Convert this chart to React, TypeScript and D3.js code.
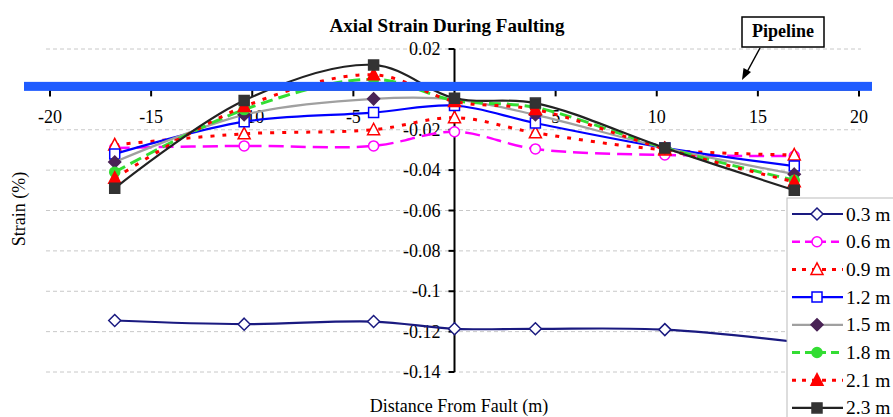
import React, { useEffect, useRef } from "react";
import * as d3 from "d3";

// distances from the fault (m)
const distances = [-16.8, -10.4, -4, 0, 4, 10.4, 16.8];

const depthLabels = ["0.3 m", "0.6 m", "0.9 m", "1.2 m", "1.5 m", "1.8 m", "2.1 m", "2.3 m"];

// strain (%) per burial depth
const strain03 = [-0.1145, -0.1163, -0.115, -0.1186, -0.1186, -0.119, -0.125];
const strain06 = [-0.029, -0.028, -0.028, -0.021, -0.0295, -0.0325, -0.033];
const strain09 = [-0.0275, -0.022, -0.02, -0.014, -0.0215, -0.03, -0.0325];
const strain12 = [-0.032, -0.016, -0.0115, -0.008, -0.0167, -0.029, -0.038];
const strain15 = [-0.036, -0.0126, -0.0047, -0.005, -0.0126, -0.029, -0.042];
const strain18 = [-0.041, -0.01, 0.005, -0.0055, -0.009, -0.029, -0.045];
const strain21 = [-0.044, -0.0085, 0.0072, -0.006, -0.01, -0.0295, -0.0458];
const strain23 = [-0.049, -0.0055, 0.0121, -0.0044, -0.0068, -0.029, -0.05];

const xTicks = [-20, -15, -10, -5, 5, 10, 15, 20];
const yTicks = [0.02, -0.02, -0.04, -0.06, -0.08, -0.1, -0.12, -0.14];

const W = 893;
const H = 417;

type Style = { line: string; dash: string | null; width: number; shape: string; stroke: string; fill: string };

const styles: Style[] = [
  { line: "#1a1a80", dash: null, width: 2.2, shape: "diamond", stroke: "#1a1a80", fill: "#fff" },
  { line: "#ff00ff", dash: "15,7", width: 2.5, shape: "circle", stroke: "#ff00ff", fill: "#fff" },
  { line: "#ff0000", dash: "4,8", width: 3, shape: "triangle", stroke: "#ff0000", fill: "#fff" },
  { line: "#0000ff", dash: null, width: 2.2, shape: "square", stroke: "#0000ff", fill: "#fff" },
  { line: "#a0a0a0", dash: null, width: 2.2, shape: "diamond", stroke: "#4a2356", fill: "#4a2356" },
  { line: "#33dd33", dash: "12,6", width: 3, shape: "circle", stroke: "#33dd33", fill: "#33dd33" },
  { line: "#ff0000", dash: "4,8", width: 3, shape: "triangle", stroke: "#ff0000", fill: "#ff0000" },
  { line: "#222222", dash: null, width: 2.2, shape: "square", stroke: "#333333", fill: "#333333" },
];

const shapePath = (shape: string) => {
  if (shape === "diamond") return "M0,-6L6,0L0,6L-6,0Z";
  if (shape === "triangle") return "M0,-6.5L6,5L-6,5Z";
  if (shape === "square") return "M-5,-5h10v10h-10Z";
  return "";
};

function App() {
  const ref = useRef<SVGSVGElement>(null);

  useEffect(() => {
    const series = [strain03, strain06, strain09, strain12, strain15, strain18, strain21, strain23];
    const svg = d3.select(ref.current);
    svg.selectAll("*").remove();

    const x = d3.scaleLinear().domain([-20, 20]).range([50, 859]);
    const y = d3.scaleLinear().domain([-0.14, 0.02]).range([372, 49]);
    const font = "Liberation Serif";

    // gridlines
    svg.append("g")
      .selectAll("line")
      .data(yTicks)
      .enter()
      .append("line")
      .attr("x1", 46)
      .attr("x2", 861)
      .attr("y1", d => y(d))
      .attr("y2", d => y(d))
      .attr("stroke", "#c8c8c8")
      .attr("stroke-dasharray", "4,3")
      .attr("stroke-width", 1);

    // x axis (crosses at 0)
    const xa = svg.append("g");
    xa.append("line")
      .attr("x1", x(-20)).attr("x2", x(20))
      .attr("y1", y(0)).attr("y2", y(0))
      .attr("stroke", "#000").attr("stroke-width", 2);
    xa.selectAll(".xt")
      .data(xTicks)
      .enter()
      .append("line")
      .attr("x1", d => x(d)).attr("x2", d => x(d))
      .attr("y1", y(0)).attr("y2", y(0) + 7)
      .attr("stroke", "#000").attr("stroke-width", 2);
    xa.selectAll("text")
      .data(xTicks)
      .enter()
      .append("text")
      .attr("x", d => x(d))
      .attr("y", y(0) + 34)
      .attr("text-anchor", "middle")
      .attr("font-family", font)
      .attr("font-size", 18)
      .text(d => d);

    // y axis (crosses at 0)
    const ya = svg.append("g");
    ya.append("line")
      .attr("x1", x(0)).attr("x2", x(0))
      .attr("y1", y(0.02)).attr("y2", y(-0.14))
      .attr("stroke", "#000").attr("stroke-width", 2);
    ya.selectAll(".yt")
      .data(yTicks)
      .enter()
      .append("line")
      .attr("x1", x(0) - 6).attr("x2", x(0))
      .attr("y1", d => y(d)).attr("y2", d => y(d))
      .attr("stroke", "#000").attr("stroke-width", 2);
    ya.selectAll("text")
      .data(yTicks)
      .enter()
      .append("text")
      .attr("x", x(0) - 14)
      .attr("y", d => y(d) + 6)
      .attr("text-anchor", "end")
      .attr("font-family", font)
      .attr("font-size", 18)
      .text(d => String(+d.toFixed(2)));

    // series
    const line = d3.line<number>()
      .x((d, i) => x(distances[i]))
      .y(d => y(d))
      .curve(d3.curveCatmullRom.alpha(0.5));

    series.forEach((vals, k) => {
      const s = styles[k];
      const g = svg.append("g");
      g.append("path")
        .attr("d", line(vals))
        .attr("fill", "none")
        .attr("stroke", s.line)
        .attr("stroke-width", s.width)
        .attr("stroke-dasharray", s.dash);
      vals.forEach((v, i) => {
        if (s.shape === "circle") {
          g.append("circle")
            .attr("cx", x(distances[i])).attr("cy", y(v)).attr("r", 5)
            .attr("fill", s.fill).attr("stroke", s.stroke).attr("stroke-width", 1.5);
        } else {
          g.append("path")
            .attr("d", shapePath(s.shape))
            .attr("transform", `translate(${x(distances[i])},${y(v)})`)
            .attr("fill", s.fill).attr("stroke", s.stroke).attr("stroke-width", 1.5);
        }
      });
    });

    // pipeline band
    svg.append("rect")
      .attr("x", 24).attr("y", y(0) - 7.5)
      .attr("width", 848).attr("height", 9)
      .attr("fill", "#1f5cff");

    // pipeline callout
    svg.append("rect")
      .attr("x", 742).attr("y", 17).attr("width", 82).attr("height", 30)
      .attr("fill", "#fff").attr("stroke", "#000").attr("stroke-width", 1.5);
    svg.append("text")
      .attr("x", 783).attr("y", 37)
      .attr("text-anchor", "middle")
      .attr("font-family", font).attr("font-size", 18).attr("font-weight", "bold")
      .text("Pipeline");
    svg.append("line")
      .attr("x1", 760).attr("y1", 48).attr("x2", 747).attr("y2", 72)
      .attr("stroke", "#000").attr("stroke-width", 1.5);
    svg.append("path")
      .attr("d", "M742,80L743.5,68L751,72Z")
      .attr("fill", "#000");

    // title and axis titles
    svg.append("text")
      .attr("x", 447).attr("y", 32)
      .attr("text-anchor", "middle")
      .attr("font-family", font).attr("font-size", 19).attr("font-weight", "bold")
      .text("Axial Strain During Faulting");
    svg.append("text")
      .attr("x", 459).attr("y", 412)
      .attr("text-anchor", "middle")
      .attr("font-family", font).attr("font-size", 18)
      .text("Distance From Fault (m)");
    svg.append("text")
      .attr("transform", "translate(25,209) rotate(-90)")
      .attr("text-anchor", "middle")
      .attr("font-family", font).attr("font-size", 18)
      .text("Strain (%)");

    // legend
    const lg = svg.append("g");
    lg.append("rect")
      .attr("x", 787).attr("y", 198).attr("width", 120).attr("height", 240)
      .attr("fill", "#fff").attr("stroke", "#bbb").attr("stroke-width", 1);
    depthLabels.forEach((lab, k) => {
      const s = styles[k];
      const cy = 214 + k * 27.7;
      lg.append("line")
        .attr("x1", 792).attr("x2", 843).attr("y1", cy).attr("y2", cy)
        .attr("stroke", s.line).attr("stroke-width", s.width)
        .attr("stroke-dasharray", s.dash ? (s.dash === "4,8" ? "4,6" : "8,5") : null);
      if (s.shape === "circle") {
        lg.append("circle").attr("cx", 817).attr("cy", cy).attr("r", 5)
          .attr("fill", s.fill).attr("stroke", s.stroke).attr("stroke-width", 1.5);
      } else {
        lg.append("path").attr("d", shapePath(s.shape))
          .attr("transform", `translate(817,${cy})`)
          .attr("fill", s.fill).attr("stroke", s.stroke).attr("stroke-width", 1.5);
      }
      lg.append("text")
        .attr("x", 846).attr("y", cy + 6.5)
        .attr("font-family", font).attr("font-size", 19.5)
        .text(lab);
    });
  }, []);

  return (
    <svg ref={ref} width={W} height={H}
      style={{ position: "absolute", left: 0, top: 0, background: "#fff" }}>
    </svg>
  );
}

export default App;
